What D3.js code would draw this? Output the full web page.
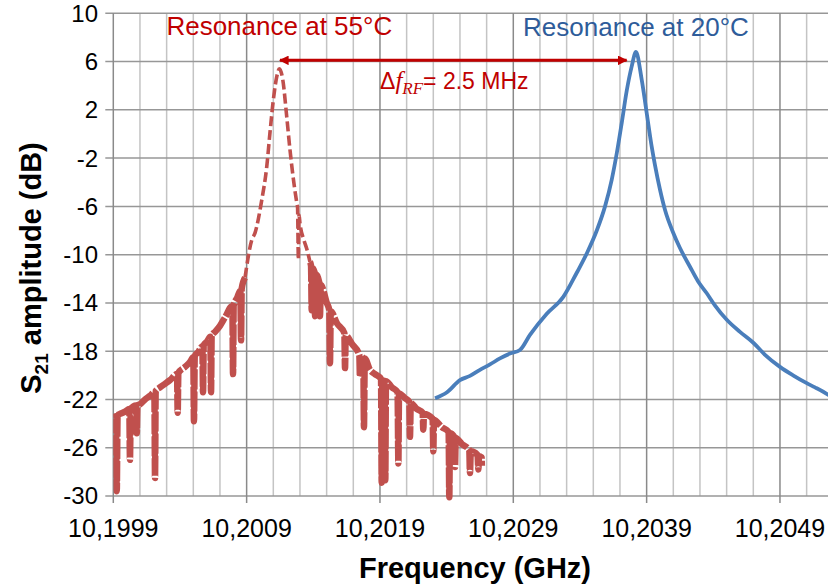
<!DOCTYPE html>
<html>
<head>
<meta charset="utf-8">
<script src="https://cdn.jsdelivr.net/npm/d3@7"></script>
<style>
  body { margin: 0; background: #fff; }
  svg { display: block; }
</style>
</head>
<body>
<svg id="chart"></svg>
<script>
// data (frequency in GHz, amplitude in dB)
// resonance at 55°C (noisy, with sharp dips)
const redFreq = [
  10.199900, 10.199919, 10.199926, 10.199932, 10.199950, 10.199988, 10.200020, 10.200025,
  10.200031, 10.200070, 10.200076, 10.200081, 10.200100, 10.200138, 10.200175, 10.200208,
  10.200213, 10.200218, 10.200250, 10.200288, 10.200325, 10.200378, 10.200383, 10.200388,
  10.200438, 10.200475, 10.200500, 10.200505, 10.200511, 10.200535, 10.200568, 10.200573,
  10.200578, 10.200603, 10.200628, 10.200633, 10.200638, 10.200663, 10.200700, 10.200738,
  10.200793, 10.200798, 10.200803, 10.200828, 10.200853, 10.200858, 10.200863, 10.200888,
  // peak
  10.200938, 10.200963, 10.201013, 10.201051, 10.201075, 10.201100, 10.201126, 10.201145,
  10.201171, 10.201201, 10.201225, 10.201255, 10.201276, 10.201282, 10.201288, 10.201293,
  10.201300, 10.201330, 10.201353, 10.201375,
  // right wing
  10.201383, 10.201388, 10.201393, 10.201408, 10.201413, 10.201418, 10.201445, 10.201450,
  10.201456, 10.201501, 10.201520, 10.201525, 10.201531, 10.201578, 10.201633, 10.201638,
  10.201643, 10.201690, 10.201745, 10.201750, 10.201756, 10.201775, 10.201780, 10.201786,
  10.201825, 10.201863, 10.201908, 10.201913, 10.201918, 10.201935, 10.201940, 10.201945,
  10.201990, 10.202032, 10.202038, 10.202043, 10.202088, 10.202120, 10.202125, 10.202131,
  10.202178, 10.202220, 10.202225, 10.202230, 10.202295, 10.202300, 10.202305, 10.202365,
  10.202415, 10.202420, 10.202425, 10.202458, 10.202463, 10.202468, 10.202515, 10.202570,
  10.202575, 10.202581, 10.202632, 10.202638, 10.202643, 10.202663, 10.202664
];
const redDb = [
  -23.5, -23.4, -29.6, -23.3, -23.2, -23.0, -22.8, -27.0,
  -22.8, -22.5, -24.8, -22.5, -22.4, -22.0, -21.7, -21.4,
  -28.5, -21.3, -21.0, -20.7, -20.4, -19.9, -23.1, -19.8,
  -19.3, -18.9, -18.5, -23.8, -18.4, -18.1, -17.6, -21.4,
  -17.5, -17.2, -16.8, -21.4, -16.7, -16.4, -15.9, -15.2,
  -14.25, -19.9, -14.2, -13.6, -13.0, -17.1, -12.8, -11.9,
  -8.8, -8.2, -5.5, -2.7, 0.1, 2.8, 4.75, 5.4,
  4.5, 1.4, -1.3, -4.1, -5.7, -6.1, -10.4, -6.7,
  -7.4, -8.8, -9.6, -10.6,
  -10.9, -14.6, -11.1, -11.4, -15.1, -11.6, -12.3, -15.1,
  -12.5, -14.0, -14.6, -19.0, -14.7, -15.7, -16.5, -19.4,
  -16.7, -17.4, -18.3, -20.1, -18.4, -18.6, -24.3, -18.6,
  -19.55, -19.9, -20.3, -28.9, -20.4, -20.5, -28.7, -20.5,
  -21.0, -21.4, -27.3, -21.5, -21.9, -22.2, -25.1, -22.3,
  -22.8, -23.1, -24.5, -23.2, -23.6, -26.3, -23.7, -24.3,
  -24.7, -30.1, -24.8, -25.1, -27.6, -25.2, -25.7, -26.2,
  -28.1, -26.3, -26.6, -27.8, -26.7, -26.8, -27.5
];

// resonance at 20°C
const blueFreq = [
  10.202313, 10.202403, 10.202500, 10.202575, 10.202650, 10.202725, 10.202800, 10.202875,
  10.202950, 10.203025, 10.203151, 10.203275, 10.203376, 10.203451, 10.203526, 10.203588,
  10.203638, 10.203676, 10.203713, 10.203751, 10.203788, 10.203820, 10.203863, 10.203901,
  10.203938, 10.203963, 10.204000, 10.204038, 10.204100, 10.204150, 10.204225, 10.204285,
  10.204351, 10.204412, 10.204501, 10.204600, 10.204700, 10.204788, 10.204900, 10.204998,
  10.205101, 10.205163, 10.205260, 10.205313
];
const blueDb = [
  -21.9, -21.4, -20.4, -20.05, -19.55, -19.1, -18.6, -18.2,
  -17.9, -16.65, -14.9, -13.5, -11.5, -9.9, -8.0, -6.0,
  -3.8, -1.6, 0.9, 3.6, 5.6, 6.8, 4.5, 1.7,
  -1.05, -2.6, -4.6, -6.3, -8.2, -9.45, -11.0, -12.2,
  -13.2, -14.2, -15.4, -16.4, -17.3, -18.3, -19.3, -20.0,
  -20.65, -21.0, -21.6, -22.0
];

const xTickValues = [10.1999, 10.2009, 10.2019, 10.2029, 10.2039, 10.2049];
const xTickLabels = ['10,1999', '10,2009', '10,2019', '10,2029', '10,2039', '10,2049'];
const yTickValues = [10, 6, 2, -2, -6, -10, -14, -18, -22, -26, -30];

const arrowFrom = 10.201150, arrowTo = 10.203750, arrowDb = 6.1;

// drawing constants
const W = 828, H = 585;
const LEFT = 113.3, TOP = 13.3, BOTTOM = 496;

const svg = d3.select('#chart')
  .attr('width', W)
  .attr('height', H)
  .attr('font-family', 'Liberation Sans, Arial, sans-serif');

const x = d3.scaleLinear().domain([10.1999, 10.2059]).range([LEFT, LEFT + 800]);
const y = d3.scaleLinear().domain([-30, 10]).range([BOTTOM, TOP]);

// minor vertical grid every 0.0002 GHz
const minorX = d3.range(0, 31).map(i => 10.1999 + i * 0.0002);
svg.append('g')
  .selectAll('line')
  .data(minorX.filter((d, i) => i % 5 !== 0))
  .join('line')
  .attr('x1', d => x(d)).attr('x2', d => x(d))
  .attr('y1', TOP).attr('y2', BOTTOM)
  .attr('stroke', '#c4c4c4').attr('stroke-width', 1.5);

// horizontal grid
svg.append('g')
  .selectAll('line')
  .data(yTickValues)
  .join('line')
  .attr('x1', LEFT - 8).attr('x2', W)
  .attr('y1', d => y(d)).attr('y2', d => y(d))
  .attr('stroke', '#979797').attr('stroke-width', 1.5);

// major vertical grid (with ticks below the axis)
svg.append('g')
  .selectAll('line')
  .data(minorX.filter((d, i) => i % 5 === 0))
  .join('line')
  .attr('x1', d => x(d)).attr('x2', d => x(d))
  .attr('y1', TOP).attr('y2', BOTTOM + 7)
  .attr('stroke', '#8a8a8a').attr('stroke-width', 1.5);

// axis labels
svg.append('g')
  .selectAll('text')
  .data(yTickValues)
  .join('text')
  .attr('x', 98)
  .attr('y', d => y(d))
  .attr('dy', '0.35em')
  .attr('text-anchor', 'end')
  .attr('font-size', 24)
  .attr('fill', '#000')
  .text(d => d);

svg.append('g')
  .selectAll('text')
  .data(xTickValues)
  .join('text')
  .attr('x', d => x(d))
  .attr('y', 537)
  .attr('text-anchor', 'middle')
  .attr('font-size', 25)
  .attr('fill', '#000')
  .text((d, i) => xTickLabels[i]);

svg.append('text')
  .attr('x', 475).attr('y', 578)
  .attr('text-anchor', 'middle')
  .attr('font-size', 29)
  .attr('font-weight', 'bold')
  .text('Frequency (GHz)');

const yTitle = svg.append('text')
  .attr('transform', 'translate(41,268) rotate(-90)')
  .attr('text-anchor', 'middle')
  .attr('font-size', 29)
  .attr('font-weight', 'bold');
yTitle.append('tspan').text('S');
yTitle.append('tspan').attr('font-size', 19).attr('dy', 7).text('21');
yTitle.append('tspan').attr('dy', -7).text(' amplitude (dB)');

// plot clip
svg.append('clipPath').attr('id', 'plot-clip')
  .append('rect').attr('x', LEFT).attr('y', TOP - 5).attr('width', W - LEFT).attr('height', BOTTOM - TOP + 10);

const line = d3.line().x(d => x(d[0])).y(d => y(d[1])).curve(d3.curveMonotoneX);

const red = redFreq.map((f, i) => [f, redDb[i]]);
// the wings look like a thick noisy band, the peak like a thin dashed line
const redParts = [
  { pts: red.filter(d => d[0] <= 10.200888), w: 6.5, dash: '20,2' },
  { pts: red.filter(d => d[0] >= 10.200888 && d[0] <= 10.201375), w: 3.6, dash: '10,4' },
  { pts: red.filter(d => d[0] >= 10.201375), w: 6.5, dash: '20,2' }
];
redParts.forEach(p => {
  svg.append('path')
    .datum(p.pts)
    .attr('clip-path', 'url(#plot-clip)')
    .attr('d', line)
    .attr('fill', 'none')
    .attr('stroke', '#c0504d')
    .attr('stroke-width', p.w)
    .attr('stroke-dasharray', p.dash)
    .attr('stroke-linejoin', 'round');
});

svg.append('path')
  .datum(blueFreq.map((f, i) => [f, blueDb[i]]))
  .attr('clip-path', 'url(#plot-clip)')
  .attr('d', line)
  .attr('fill', 'none')
  .attr('stroke', '#4a7ebb')
  .attr('stroke-width', 3.8)
  .attr('stroke-linejoin', 'round');

// double arrow
const defs = svg.append('defs');
['start', 'end'].forEach(k => {
  defs.append('marker')
    .attr('id', 'arrow-' + k)
    .attr('viewBox', '0 0 10 10')
    .attr('refX', 9).attr('refY', 5)
    .attr('markerWidth', 4).attr('markerHeight', 3.2)
    .attr('orient', k === 'end' ? 'auto' : 'auto-start-reverse')
    .append('path')
    .attr('d', 'M0,0 L10,5 L0,10 Z')
    .attr('fill', '#c00000');
});
svg.append('line')
  .attr('x1', x(arrowFrom)).attr('x2', x(arrowTo))
  .attr('y1', y(arrowDb)).attr('y2', y(arrowDb))
  .attr('stroke', '#c00000').attr('stroke-width', 3)
  .attr('marker-start', 'url(#arrow-start)')
  .attr('marker-end', 'url(#arrow-end)');

// annotations
svg.append('text')
  .attr('x', x(10.201145)).attr('y', 35)
  .attr('text-anchor', 'middle')
  .attr('font-size', 26)
  .attr('fill', '#c00000')
  .text('Resonance at 55°C');

svg.append('text')
  .attr('x', x(10.203820)).attr('y', 36)
  .attr('text-anchor', 'middle')
  .attr('font-size', 26)
  .attr('fill', '#2e5c9a')
  .text('Resonance at 20°C');

const delta = svg.append('text')
  .attr('x', 380).attr('y', 89)
  .attr('font-size', 23)
  .attr('fill', '#c00000');
delta.append('tspan').text('Δ');
delta.append('tspan').attr('font-family', 'Liberation Serif, serif').attr('font-style', 'italic').attr('font-size', 25).text('f');
delta.append('tspan').attr('font-family', 'Liberation Serif, serif').attr('font-style', 'italic').attr('font-size', 17).attr('dy', 5).text('RF');
delta.append('tspan').attr('dy', -5).text('= 2.5 MHz');
</script>
</body>
</html>
